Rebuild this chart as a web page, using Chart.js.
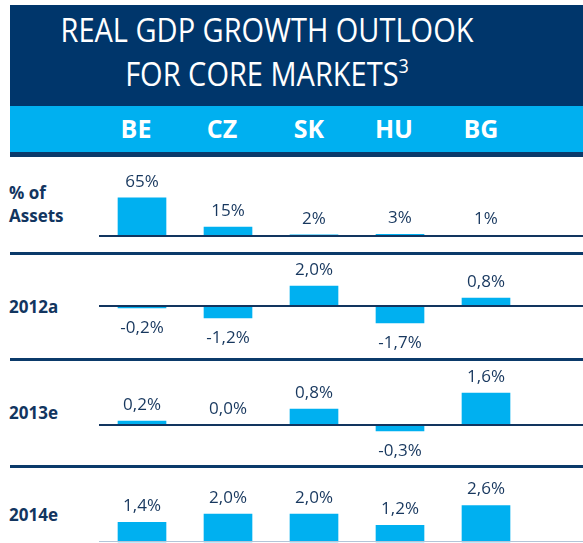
<!DOCTYPE html>
<html>
<head>
<meta charset="utf-8">
<script src="https://cdn.jsdelivr.net/npm/chart.js@4.4.1/dist/chart.umd.min.js"></script>
<style>
    body { margin: 0; width: 583px; height: 543px; overflow: hidden; background: #fff; position: relative; font-family: "Open Sans", sans-serif; }
    .block { position: absolute; left: 10px; right: 0; }
    #header { top: 5px; height: 101px; background: #00366b; }
    #band { top: 106px; height: 46px; background: #00b0f0; }
    #title { position: absolute; left: 0; width: 534px; top: 8px; text-align: center; color: #fff; font-size: 29px; line-height: 40px; transform: scaleY(1.1); transform-origin: top; }
    #title sup { font-size: 18px; vertical-align: 12px; line-height: 0; }
    .country { position: absolute; top: 109px; width: 80px; margin-left: -40px; text-align: center; color: #fff; font-weight: bold; font-size: 25px; line-height: 38px; }
    .sep { position: absolute; left: 10px; right: 0; background: #0b3a6a; }
    .rowLabel { position: absolute; left: 9px; color: #12355f; font-weight: bold; font-size: 17px; line-height: 23px; }
    canvas { position: absolute; left: 99px; }
</style>
</head>
<body>
<div class="block" id="header"></div>
<div class="block" id="band"></div>
<div id="title">REAL GDP GROWTH OUTLOOK<br>FOR CORE MARKETS<sup>3</sup></div>
<div class="sep" style="top:152px;height:5px"></div>
<div class="sep" style="top:252px;height:3px"></div>
<div class="sep" style="top:358px;height:3px"></div>
<div class="sep" style="top:465px;height:3px"></div>

<script>
const countries = ["BE", "CZ", "SK", "HU", "BG"];
const countryX = [136, 222, 309, 394, 481];

const assetShare = [65, 15, 2, 3, 1];
const gdp2012 = [-0.2, -1.2, 2.0, -1.7, 0.8];
const gdp2013 = [0.2, 0.0, 0.8, -0.3, 1.6];
const gdp2014 = [1.4, 2.0, 2.0, 1.2, 2.6];

const pctInt = v => v + "%";
const pctDec = v => v.toFixed(1).replace(".", ",") + "%";

const rows = [
    { label: "% of<br>Assets", labelTop: 181, data: assetShare, fmt: pctInt, top: 157, height: 95, min: -27.4, max: 135, axis: "#12355f", axisWidth: 2 },
    { label: "2012a", labelTop: 295, data: gdp2012, fmt: pctDec, top: 256, height: 102, min: -5.2, max: 5.0, axis: "#12355f", axisWidth: 2 },
    { label: "2013e", labelTop: 401, data: gdp2013, fmt: pctDec, top: 362, height: 103, min: -2.0, max: 3.15, axis: "#12355f", axisWidth: 2 },
    { label: "2014e", labelTop: 503, data: gdp2014, fmt: pctDec, top: 468, height: 75, min: -0.07, max: 5.29, axis: "#b3c5d8", axisWidth: 1 }
];

countries.forEach((c, i) => {
    const el = document.createElement("div");
    el.className = "country";
    el.style.left = countryX[i] + "px";
    el.textContent = c;
    document.body.appendChild(el);
});

// zero line runs from the left of the plot to the page edge
const zeroLine = {
    id: "zeroLine",
    afterDatasetsDraw(chart, args, opts) {
        const ctx = chart.ctx;
        const y = Math.round(chart.scales.y.getPixelForValue(0));
        ctx.save();
        ctx.strokeStyle = opts.color;
        ctx.lineWidth = opts.width;
        ctx.beginPath();
        ctx.moveTo(chart.chartArea.left, y - (opts.width % 2 ? 0.5 : 0));
        ctx.lineTo(chart.width, y - (opts.width % 2 ? 0.5 : 0));
        ctx.stroke();
        ctx.restore();
    }
};

// value above positive bars, below negative ones
const valueLabels = {
    id: "valueLabels",
    afterDatasetsDraw(chart, args, opts) {
        const ctx = chart.ctx;
        const meta = chart.getDatasetMeta(0);
        const values = chart.data.datasets[0].data;
        ctx.save();
        ctx.font = "17px 'Open Sans'";
        ctx.fillStyle = "#17375e";
        ctx.textAlign = "center";
        ctx.textBaseline = "middle";
        meta.data.forEach((bar, i) => {
            const v = values[i];
            const y = v >= 0 ? bar.y - 16 : bar.y + 20;
            ctx.fillText(opts.fmt(v), bar.x, y);
        });
        ctx.restore();
    }
};

rows.forEach(row => {
    const lab = document.createElement("div");
    lab.className = "rowLabel";
    lab.style.top = row.labelTop + "px";
    lab.innerHTML = row.label;
    document.body.appendChild(lab);

    const canvas = document.createElement("canvas");
    canvas.width = 484;
    canvas.height = row.height;
    canvas.style.top = row.top + "px";
    document.body.appendChild(canvas);

    new Chart(canvas, {
        type: "bar",
        data: {
            labels: countries,
            datasets: [{
                data: row.data,
                backgroundColor: "#00b0f0",
                barThickness: 48
            }]
        },
        options: {
            responsive: false,
            animation: false,
            layout: { padding: { left: 0, right: 54, top: 0, bottom: 0 } },
            scales: {
                x: { display: false },
                y: { display: false, min: row.min, max: row.max }
            },
            plugins: {
                legend: { display: false },
                tooltip: { enabled: false },
                zeroLine: { color: row.axis, width: row.axisWidth },
                valueLabels: { fmt: row.fmt }
            }
        },
        plugins: [zeroLine, valueLabels]
    });
});
</script>
</body>
</html>
